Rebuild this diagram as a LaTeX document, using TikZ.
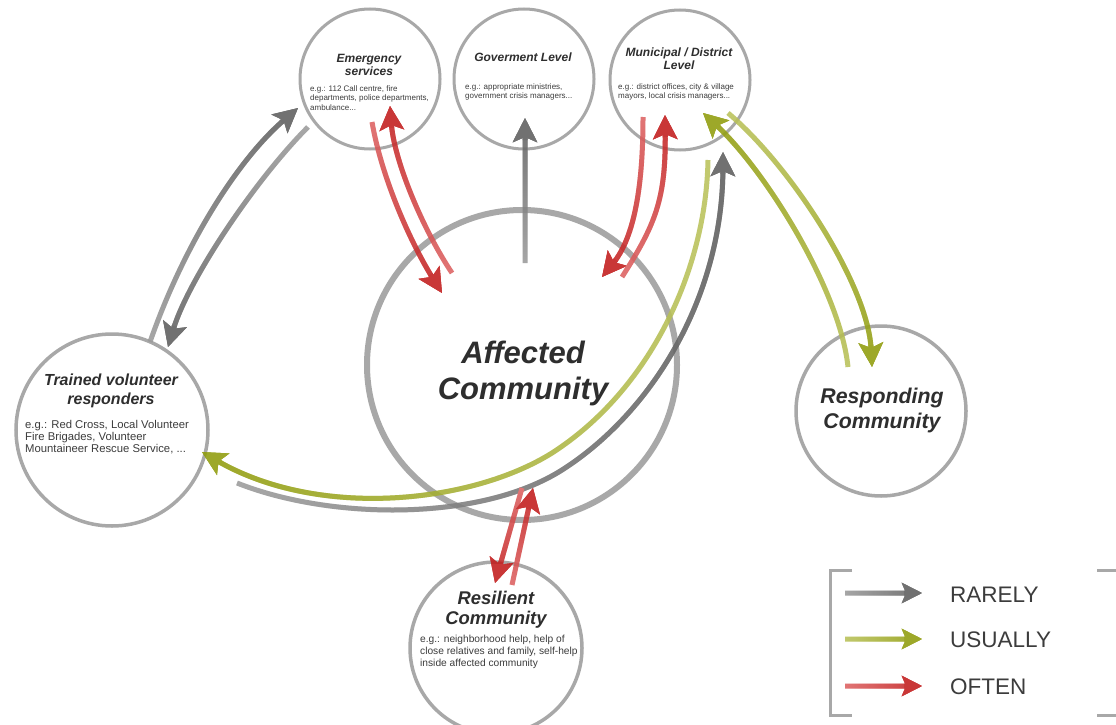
\documentclass[tikz,border=0pt]{standalone}
\usepackage{fontspec}
\setmainfont{Liberation Sans}
\usetikzlibrary{arrows.meta,calc,fadings}

\definecolor{ringgray}{HTML}{A8A8A8}
\definecolor{graydark}{HTML}{5E5E5E}
\definecolor{graylight}{HTML}{9C9C9C}
\definecolor{greendark}{HTML}{909C0C}
\definecolor{greenlight}{HTML}{BBC35C}
\definecolor{reddark}{HTML}{C21C1C}
\definecolor{redlight}{HTML}{DE6464}
\definecolor{inkdark}{HTML}{2E2E2E}
\definecolor{inksoft}{HTML}{3C3C3C}

% opacity ramps: each one is opaque on the side it is named after
\tikzfading[name=toN, bottom color=transparent!100, top color=transparent!0]
\tikzfading[name=toS, top color=transparent!100, bottom color=transparent!0]
\tikzfading[name=toE, left color=transparent!100, right color=transparent!0]
\tikzfading[name=toW, right color=transparent!100, left color=transparent!0]

\begin{document}
\begin{tikzpicture}[x=1pt, y=-1pt,
  >={Stealth[length=24pt,width=24pt,inset=5pt]},
  hub/.style 2 args={circle, draw=ringgray, line width=#1, minimum size=#2, inner sep=0pt},
  flow/.style n args={3}{line width=5pt, ->, draw=#1, postaction={draw=#2, path fading=#3}},
  headtip/.style={line width=5pt, ->, draw=#1},
  ttl/.style={align=center, text=inkdark, inner sep=0pt},
  dsc/.style={align=left, anchor=west, text=inksoft, inner sep=0pt},
  lgd/.style={anchor=west, text=inksoft, inner sep=0pt, font=\fontsize{22.5}{27}\selectfont},
  bracket/.style={draw=ringgray, line width=3pt}
]
\path[use as bounding box, fill=white] (0,0) rectangle (1116,725);

% ---------- circles ----------
\node[hub={3pt}{140pt}] (emerg) at (370,79) {};
\node[hub={3pt}{140pt}] (gov) at (524,79) {};
\node[hub={3pt}{140pt}] (muni) at (680,80) {};
\node[hub={3.5pt}{192pt}] (trained) at (112,430) {};
\node[hub={6pt}{310pt}] (affected) at (522,365) {};
\node[hub={3.5pt}{170pt}] (resp) at (881,411) {};
\node[hub={3.5pt}{172pt}] (resil) at (496,648) {};

% ---------- connector end points ----------
\coordinate (gaT) at (150,342); \coordinate (gaC) at (235,162); \coordinate (gaH) at (298,108);
\coordinate (gbT) at (308,127); \coordinate (gbC) at (188,280); \coordinate (gbH) at (168,347);
\coordinate (raT) at (372,122); \coordinate (raC) at (412,245); \coordinate (raH) at (442,293);
\coordinate (rbT) at (452,273); \coordinate (rbC) at (394,160); \coordinate (rbH) at (390,106);
\coordinate (govT) at (525,263); \coordinate (govH) at (525,118);
\coordinate (rcT) at (643,117); \coordinate (rcC) at (632,240); \coordinate (rcH) at (602,277);
\coordinate (rdT) at (622,277); \coordinate (rdC) at (666,200); \coordinate (rdH) at (665,115);
\coordinate (gnT) at (708,160); \coordinate (gnM) at (552,453); \coordinate (gnC) at (320,520); \coordinate (gnH) at (202,452);
\coordinate (glT) at (237,483); \coordinate (glM) at (562,470); \coordinate (glC) at (722,300); \coordinate (glH) at (723,152);
\coordinate (uaT) at (848,367); \coordinate (uaC) at (765,170); \coordinate (uaH) at (703,113);
\coordinate (ubT) at (728,113); \coordinate (ubC) at (868,285); \coordinate (ubH) at (872,367);
\coordinate (reT) at (522,488); \coordinate (reH) at (495,583);
\coordinate (rfT) at (512,585); \coordinate (rfH) at (533,488);

% ---------- connectors (light tail, dark head), slightly see-through ----------
\begin{scope}[transparency group, opacity=0.88]
% trained volunteers <-> emergency services
\draw[flow={graylight}{graydark}{toN}] (gaT) .. controls (182,250) and (gaC) .. (gaH);
\draw[headtip=graydark] ($(gaH)!22pt!(gaC)$) -- (gaH);
\draw[flow={graylight}{graydark}{toS}] (gbT) .. controls (255,180) and (gbC) .. (gbH);
\draw[headtip=graydark] ($(gbH)!22pt!(gbC)$) -- (gbH);

% emergency services <-> affected community
\draw[flow={redlight}{reddark}{toS}] (raT) .. controls (382,180) and (raC) .. (raH);
\draw[headtip=reddark] ($(raH)!22pt!(raC)$) -- (raH);
\draw[flow={redlight}{reddark}{toN}] (rbT) .. controls (422,228) and (rbC) .. (rbH);
\draw[headtip=reddark] ($(rbH)!22pt!(rbC)$) -- (rbH);

% affected community -> government level
\draw[flow={graylight}{graydark}{toN}] ([xshift=-10pt]govT) ([xshift=10pt]govT) (govT) -- (govH);
\draw[headtip=graydark] ($(govH)!22pt!(govT)$) -- (govH);

% municipal level <-> affected community
\draw[flow={redlight}{reddark}{toS}] (rcT) .. controls (643,195) and (rcC) .. (rcH);
\draw[headtip=reddark] ($(rcH)!22pt!(rcC)$) -- (rcH);
\draw[flow={redlight}{reddark}{toN}] (rdT) .. controls (655,225) and (rdC) .. (rdH);
\draw[headtip=reddark] ($(rdH)!22pt!(rdC)$) -- (rdH);

% municipal level <-> trained volunteers
\draw[flow={greenlight}{greendark}{toW}] (gnT) .. controls (706,270) and (650,390) .. (gnM)
      .. controls (472,503) and (gnC) .. (gnH);
\draw[headtip=greendark] ($(gnH)!22pt!(gnC)$) -- (gnH);
\draw[flow={graylight}{graydark}{toE}] (glT) .. controls (330,520) and (480,522) .. (glM)
      .. controls (650,414) and (glC) .. (glH);
\draw[headtip=graydark] ($(glH)!22pt!(glC)$) -- (glH);

% municipal level <-> responding community
\draw[flow={greenlight}{greendark}{toN}] (uaT) .. controls (840,290) and (uaC) .. (uaH);
\draw[headtip=greendark] ($(uaH)!22pt!(uaC)$) -- (uaH);
\draw[flow={greenlight}{greendark}{toS}] (ubT) .. controls (790,165) and (ubC) .. (ubH);
\draw[headtip=greendark] ($(ubH)!22pt!(ubC)$) -- (ubH);

% affected community <-> resilient community
\draw[flow={redlight}{reddark}{toS}] (reT) -- (reH);
\draw[headtip=reddark] ($(reH)!22pt!(reT)$) -- (reH);
\draw[flow={redlight}{reddark}{toN}] (rfT) -- (rfH);
\draw[headtip=reddark] ($(rfH)!22pt!(rfT)$) -- (rfH);
\end{scope}

% ---------- texts ----------
\node[ttl, font={\fontsize{12}{13}\selectfont\bfseries\itshape}] (emergTitle) at (369,64.5) {Emergency\\services};
\node[dsc, font={\fontsize{8}{9.7}\selectfont}] (emergText) at (310,98)
  {e.g.: 112 Call centre, fire\\departments, police departments,\\ambulance...};

\node[ttl, font={\fontsize{12}{13}\selectfont\bfseries\itshape}] (govTitle) at (523,57) {Goverment Level};
\node[dsc, font={\fontsize{8}{9.7}\selectfont}] (govText) at (465,92)
  {e.g.: appropriate ministries,\\government crisis managers...};

\node[ttl, font={\fontsize{12}{13}\selectfont\bfseries\itshape}] (muniTitle) at (679,59) {Municipal / District\\Level};
\node[dsc, font={\fontsize{8}{9.7}\selectfont}] (muniText) at (618,92)
  {e.g.: district offices, city \& village\\mayors, local crisis managers...};

\node[ttl, font={\fontsize{16}{19}\selectfont\bfseries\itshape}] (trainedTitle) at (111,391) {Trained volunteer\\responders};
\node[dsc, font={\fontsize{11.3}{11.7}\selectfont}] (trainedText) at (25,437)
  {e.g.: Red Cross, Local Volunteer\\Fire Brigades, Volunteer\\Mountaineer Rescue Service, ...};

\node[ttl, font={\fontsize{31}{36}\selectfont\bfseries\itshape}] (affectedTitle) at (523,373) {Affected\\Community};

\node[ttl, font={\fontsize{21.3}{25}\selectfont\bfseries\itshape}] (respTitle) at (882,410) {Responding\\Community};

\node[ttl, font={\fontsize{18.4}{20}\selectfont\bfseries\itshape}] (resilTitle) at (496,610) {Resilient\\Community};
\node[dsc, font={\fontsize{10.2}{11.7}\selectfont}] (resilText) at (420,652)
  {e.g.: neighborhood help, help of\\close relatives and family, self-help\\inside affected community};

% ---------- legend ----------
\draw[bracket] (852,570) -- (830,570) -- (830,715) -- (852,715);
\draw[bracket] (1097,570) -- (1119,570) -- (1119,715) -- (1097,715);

\begin{scope}[transparency group, opacity=0.88, >={Stealth[length=20pt,width=20pt,inset=4pt]}]
  \coordinate (lrT) at (845,593); \coordinate (lrH) at (922,593);
  \coordinate (luT) at (845,639); \coordinate (luH) at (922,639);
  \coordinate (loT) at (845,686); \coordinate (loH) at (922,686);
  \draw[flow={graylight}{graydark}{toE}] ([yshift=-10pt]lrT) ([yshift=10pt]lrT) (lrT) -- (lrH);
  \draw[headtip=graydark] ($(lrH)!18pt!(lrT)$) -- (lrH);
  \draw[flow={greenlight}{greendark}{toE}] ([yshift=-10pt]luT) ([yshift=10pt]luT) (luT) -- (luH);
  \draw[headtip=greendark] ($(luH)!18pt!(luT)$) -- (luH);
  \draw[flow={redlight}{reddark}{toE}] ([yshift=-10pt]loT) ([yshift=10pt]loT) (loT) -- (loH);
  \draw[headtip=reddark] ($(loH)!18pt!(loT)$) -- (loH);
\end{scope}
\node[lgd] (lgRarely) at (950,595) {RARELY};
\node[lgd] (lgUsually) at (950,640) {USUALLY};
\node[lgd] (lgOften) at (950,687) {OFTEN};
\end{tikzpicture}
\end{document}
